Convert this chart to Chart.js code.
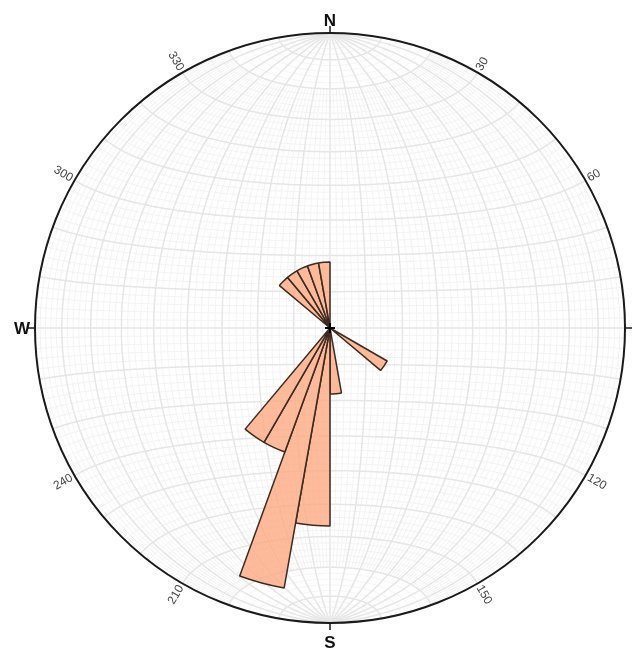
<!DOCTYPE html>
<html>
<head>
<meta charset="utf-8">
<title>Rose diagram</title>
<script src="https://cdn.jsdelivr.net/npm/chart.js@4.4.1/dist/chart.umd.min.js"></script>
<style>
  html, body { margin: 0; padding: 0; background: #ffffff; }
  #wrap { width: 637px; height: 648px; position: relative; }
</style>
</head>
<body>
<div id="wrap"><canvas id="rose"></canvas></div>
<script>
// 10-degree azimuth bins, clockwise from north
const binStarts = [];
for (let a = 0; a < 360; a += 10) binStarts.push(a);
const binLabels = binStarts.map(a => a + '\u2013' + (a + 10) + '\u00b0');

// number of measurements falling in each bin
const petalCounts = [
  0, 0, 0, 0, 0, 0, 0, 0, 0, 0,   // 0-100
  0, 0, 1, 0, 0, 0, 0, 1, 3, 4,   // 100-200
  2, 2, 0, 0, 0, 0, 0, 0, 0, 0,   // 200-300
  0, 1, 1, 1, 1, 1                // 300-360
];

// radial axis upper limit (count units at the primitive circle)
const radialMax = 4.47;

// azimuth labels round the primitive
const azimuthTicks = [30, 60, 120, 150, 210, 240, 300, 330];
const cardinalAz = [0, 270, 180];
const cardinalText = ['N', 'W', 'S'];
const tickAz = [0, 90, 180, 270];

const DEG = Math.PI / 180;
// fine meridians stop this far (degrees) from the N and S poles
const POLAR_CAP = 20;

// equal-area (Schmidt) net: 2-degree grid, heavier every 10 degrees
const stereonetGrid = {
  id: 'stereonetGrid',
  beforeDatasetsDraw(chart) {
    const sc = chart.scales.r;
    const cx = sc.xCenter, cy = sc.yCenter, R = sc.drawingArea;
    const ctx = chart.ctx;
    // lower-hemisphere unit vector (east, north, up) -> canvas point
    const proj = (x, y, z) => {
      const k = R / Math.sqrt(Math.max(1 - z, 1e-9));
      return [cx + k * x, cy - k * y];
    };

    ctx.save();
    ctx.beginPath();
    ctx.arc(cx, cy, R, 0, 2 * Math.PI);
    ctx.clip();

    const drawPass = (major) => {
      ctx.strokeStyle = major ? '#e6e6e6' : '#f0f0f0';
      ctx.lineWidth = major ? 1.5 : 0.8;
      // small circles about the N-S axis
      for (let a = 2; a < 180; a += 2) {
        if ((a % 10 === 0) !== major) continue;
        const sa = Math.sin(a * DEG), ca = Math.cos(a * DEG);
        ctx.beginPath();
        for (let i = 0; i <= 180; i++) {
          const s = i * DEG;
          const p = proj(sa * Math.cos(s), ca, -sa * Math.sin(s));
          if (i === 0) ctx.moveTo(p[0], p[1]); else ctx.lineTo(p[0], p[1]);
        }
        ctx.stroke();
      }
      // great circles through the N and S poles
      for (let d = 2; d <= 90; d += 2) {
        if ((d % 10 === 0) !== major) continue;
        const sides = d === 90 ? [1] : [1, -1];
        const t0 = major ? 0 : POLAR_CAP, t1 = major ? 180 : 180 - POLAR_CAP;
        const cd = Math.cos(d * DEG), sd = Math.sin(d * DEG);
        for (const side of sides) {
          ctx.beginPath();
          for (let t = t0; t <= t1; t += 1) {
            const st = Math.sin(t * DEG), ct = Math.cos(t * DEG);
            const p = proj(side * st * cd, ct, -st * sd);
            if (t === t0) ctx.moveTo(p[0], p[1]); else ctx.lineTo(p[0], p[1]);
          }
          ctx.stroke();
        }
      }
    };
    drawPass(false);
    drawPass(true);
    ctx.restore();
  },
  afterDatasetsDraw(chart) {
    const sc = chart.scales.r;
    const cx = sc.xCenter, cy = sc.yCenter, R = sc.drawingArea;
    const ctx = chart.ctx;
    ctx.save();

    // primitive circle
    ctx.strokeStyle = '#1a1a1a';
    ctx.lineWidth = 2;
    ctx.beginPath();
    ctx.arc(cx, cy, R, 0, 2 * Math.PI);
    ctx.stroke();

    // cardinal ticks
    ctx.lineWidth = 1.5;
    for (const az of tickAz) {
      const sx = Math.sin(az * DEG), sy = -Math.cos(az * DEG);
      ctx.beginPath();
      ctx.moveTo(cx + sx * R, cy + sy * R);
      ctx.lineTo(cx + sx * (R + 7), cy + sy * (R + 7));
      ctx.stroke();
    }

    // centre mark
    ctx.strokeStyle = '#000000';
    ctx.lineWidth = 2;
    ctx.beginPath();
    ctx.moveTo(cx - 5, cy); ctx.lineTo(cx + 5, cy);
    ctx.moveTo(cx, cy - 5); ctx.lineTo(cx, cy + 5);
    ctx.stroke();

    // cardinal letters
    ctx.fillStyle = '#111111';
    ctx.font = 'bold 17px "Liberation Sans", Arial, sans-serif';
    ctx.textAlign = 'center';
    ctx.textBaseline = 'middle';
    cardinalAz.forEach((az, i) => {
      const rr = R + (az === 180 ? 19 : 13);
      ctx.fillText(cardinalText[i], cx + Math.sin(az * DEG) * rr, cy - Math.cos(az * DEG) * rr + 1);
    });

    // azimuth labels written along the radius
    ctx.fillStyle = '#444444';
    ctx.font = '12px "Liberation Sans", Arial, sans-serif';
    for (const az of azimuthTicks) {
      const txt = String(az);
      const w = ctx.measureText(txt).width;
      const rr = R + 3 + w / 2;
      let rot = az - 90;
      while (rot > 90) rot -= 180;
      while (rot < -90) rot += 180;
      ctx.save();
      ctx.translate(cx + Math.sin(az * DEG) * rr, cy - Math.cos(az * DEG) * rr);
      ctx.rotate(rot * DEG);
      ctx.fillText(txt, 0, 0);
      ctx.restore();
    }
    ctx.restore();
  }
};

new Chart(document.getElementById('rose'), {
  type: 'polarArea',
  data: {
    labels: binLabels,
    datasets: [{
      data: petalCounts,
      backgroundColor: 'rgba(252,168,128,0.78)',
      borderColor: '#3d2a20',
      borderWidth: 1.5
    }]
  },
  options: {
    responsive: true,
    maintainAspectRatio: false,
    animation: false,
    layout: { padding: { left: 35, right: 12, top: 33, bottom: 25 } },
    plugins: {
      legend: { display: false },
      tooltip: { enabled: false }
    },
    scales: {
      r: {
        display: false,
        min: 0,
        max: radialMax,
        startAngle: 0
      }
    }
  },
  plugins: [stereonetGrid]
});
</script>
</body>
</html>
